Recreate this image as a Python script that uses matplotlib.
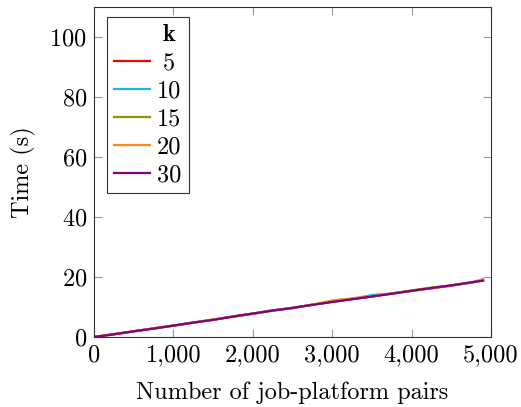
import matplotlib
matplotlib.use("Agg")
import matplotlib.pyplot as plt
from matplotlib.ticker import FuncFormatter

plt.rcParams['font.family'] = 'serif'
plt.rcParams['font.serif'] = ['cmr10']
plt.rcParams['mathtext.fontset'] = 'cm'
plt.rcParams['axes.formatter.use_mathtext'] = True
plt.rcParams['font.size'] = 17.5

pairs = [0, 250, 500, 750, 1000, 1250, 1500, 1750, 2000, 2250, 2500,
         2750, 3000, 3250, 3500, 3750, 4000, 4250, 4500, 4750, 4900]

k_labels = ["5", "10", "15", "20", "30"]
t_k5 = [0.0, 0.9, 1.9, 2.9, 3.8, 4.8, 5.8, 6.8, 7.8, 8.9, 9.6,
        10.8, 11.7, 12.6, 13.5, 14.5, 15.4, 16.3, 17.1, 18.2, 18.9]
t_k10 = [0.0, 0.9, 1.9, 2.8, 3.8, 4.8, 5.7, 6.8, 7.8, 8.8, 9.7,
         10.7, 11.8, 12.7, 14.0, 14.5, 15.4, 16.3, 17.2, 18.1, 18.8]
t_k15 = [0.0, 0.9, 1.9, 2.8, 3.8, 4.8, 5.8, 6.8, 7.8, 8.8, 9.7,
         10.8, 11.7, 12.6, 13.5, 14.5, 15.5, 16.5, 17.2, 18.2, 18.9]
t_k20 = [0.0, 1.0, 1.9, 2.9, 3.8, 4.7, 5.8, 6.8, 7.7, 8.8, 9.7,
         10.7, 12.2, 12.9, 13.6, 14.5, 15.3, 16.2, 17.1, 18.2, 19.3]
t_k30 = [0.0, 0.9, 1.9, 2.8, 3.8, 4.8, 5.7, 6.8, 7.8, 8.8, 9.7,
         10.7, 11.7, 12.6, 13.5, 14.4, 15.4, 16.3, 17.2, 18.2, 18.8]

colors = ['#ff0000', '#1cb4ec', '#999000', '#ff8c1a', '#800080']


def centred(lab):
    # pad one-digit entries so they sit centred in the label column
    return r'$\;$' + lab if len(lab) == 1 else lab


fig = plt.figure(figsize=(5.21, 4.07), dpi=100)
ax = fig.add_axes([0.1804, 0.172, 0.762, 0.811])

# blank entry acting as the legend heading
ax.plot([], [], color='none', label=r'$\;\mathbf{k}$')
for lab, t, c in zip(k_labels, [t_k5, t_k10, t_k15, t_k20, t_k30], colors):
    ax.plot(pairs, t, color=c, lw=1.6, label=centred(lab))

ax.set_xlim(0, 5000)
ax.set_ylim(0, 110)
ax.set_xticks([0, 1000, 2000, 3000, 4000, 5000])
ax.set_yticks([0, 20, 40, 60, 80, 100])
ax.xaxis.set_major_formatter(FuncFormatter(lambda v, p: f"{v:,.0f}"))
ax.tick_params(direction='in', top=True, right=True, length=6,
               color='#999999', width=0.8, pad=5)
for s in ax.spines.values():
    s.set_linewidth(0.8)
    s.set_color('#333333')

ax.set_xlabel('Number of job-platform pairs', labelpad=11)
ax.set_ylabel('Time (s)', labelpad=10)

leg = ax.legend(loc='upper left', bbox_to_anchor=(0.033, 0.97), fancybox=False,
                framealpha=1, edgecolor='#333333', handlelength=1.45,
                handletextpad=0.3, borderpad=0.3, labelspacing=0.24,
                borderaxespad=0)
leg.get_frame().set_linewidth(0.8)

fig.savefig('out.png', dpi=100)
